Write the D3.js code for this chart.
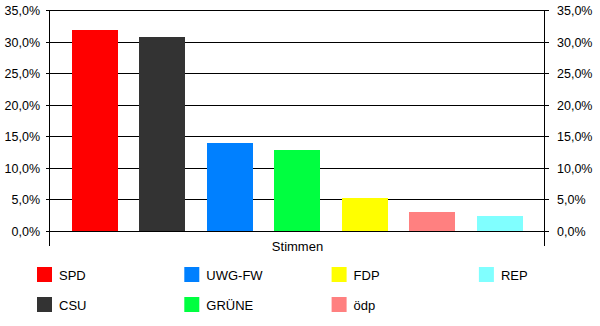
<!DOCTYPE html>
<html>
<head>
    <meta charset="utf-8">
    <title>Stimmen</title>
    <style>
        body { margin: 0; background: #fff; }
        text { font-family: 'Liberation Sans', Arial, sans-serif; fill: #000; }
    </style>
</head>
<body>
<div id="plot"></div>
<script src="https://cdn.jsdelivr.net/npm/d3@7"></script>
<script>

    let parties = ['SPD', 'CSU', 'UWG-FW', 'GRÜNE', 'FDP', 'ödp', 'REP'];
    let votes = [31.9, 30.65, 14.0, 12.8, 5.2, 3.05, 2.4];
    let colors = ['#ff0000', '#333333', '#0080ff', '#00ff40', '#ffff00', '#ff8080', '#80ffff'];
    let yTicks = [0, 5, 10, 15, 20, 25, 30, 35];
    let category = 'Stimmen';
    // legend order: column by column, two rows
    let legendOrder = ['SPD', 'CSU', 'UWG-FW', 'GRÜNE', 'FDP', 'ödp', 'REP'];

    function translate(x, y) {
      return 'translate(' + x + ', ' + y + ')';
    }

    let svgWidth = 600;
    let svgHeight = 326;
    let plotLeft = 50, plotRight = 545, plotTop = 10, plotBottom = 231;

    let svg = d3.select('#plot')
      .append('svg')
        .attr('width', svgWidth)
        .attr('height', svgHeight);

    let y = d3.scaleLinear().domain([0, 35]).rangeRound([plotBottom, plotTop]);
    let x = d3.scaleBand()
      .domain(parties)
      .range([plotLeft, plotRight])
      .paddingInner(0.318)
      .paddingOuter(0.326);
    let color = d3.scaleOrdinal().domain(parties).range(colors);

    // gridlines
    svg.append('g')
      .selectAll('line')
      .data(yTicks)
      .enter()
      .append('line')
        .attr('x1', plotLeft)
        .attr('x2', plotRight)
        .attr('y1', d => y(d) + 0.5)
        .attr('y2', d => y(d) + 0.5)
        .attr('stroke', '#000')
        .attr('stroke-width', 1);

    // bars
    svg.append('g')
      .selectAll('rect')
      .data(parties)
      .enter()
      .append('rect')
        .attr('x', d => Math.round(x(d)))
        .attr('width', Math.round(x.bandwidth()))
        .attr('y', (d, i) => y(votes[i]))
        .attr('height', (d, i) => y(0) - y(votes[i]))
        .style('fill', color);

    let fmt = d => d.toFixed(1).replace('.', ',') + '%';

    let yLeft = d3.axisLeft(y).tickValues(yTicks).tickSize(4).tickPadding(6).tickFormat(fmt);
    let yRight = d3.axisRight(y).tickValues(yTicks).tickSize(4).tickPadding(8).tickFormat(fmt);

    svg.append('g')
      .attr('transform', translate(plotLeft, 0))
      .call(yLeft)
      .call(g => g.select('.domain').remove());

    svg.append('g')
      .attr('transform', translate(plotRight, 0))
      .call(yRight)
      .call(g => g.select('.domain').remove());

    svg.selectAll('.tick text')
      .style('font-size', '12.5px')
      .style('font-family', "'Liberation Sans', Arial, sans-serif");
    svg.selectAll('.tick line').attr('stroke', '#000');

    // vertical axis lines, extended below zero as category ticks
    let xCat = d3.scaleBand().domain([category]).range([plotLeft, plotRight]);
    [plotLeft, plotRight].forEach(function(px) {
      svg.append('line')
        .attr('x1', px - 0.5).attr('x2', px - 0.5)
        .attr('y1', plotTop).attr('y2', 246)
        .attr('stroke', '#000');
    });

    svg.append('text')
      .attr('x', xCat(category) + xCat.bandwidth() / 2)
      .attr('y', 251)
      .style('text-anchor', 'middle')
      .style('font-size', '13px')
      .text(category);

    // legend
    let legend = svg.selectAll('.legend')
      .data(legendOrder)
      .enter()
      .append('g')
        .attr('class', 'legend')
        .attr('transform', (d, i) => translate(37 + Math.floor(i / 2) * 147.3, 267 + (i % 2) * 30));

    legend.append('rect')
      .attr('width', 15)
      .attr('height', 15)
      .style('fill', color);

    legend.append('text')
      .attr('x', 22)
      .attr('y', 13)
      .style('font-size', '13px')
      .text(d => d);

</script>
</body>
</html>
